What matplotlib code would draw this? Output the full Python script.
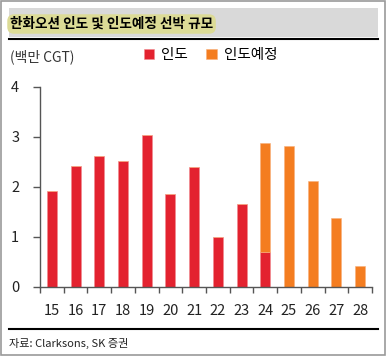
import numpy as np
import matplotlib.pyplot as plt
from matplotlib.patches import Rectangle
from matplotlib.ticker import FixedLocator

plt.rcParams['font.family'] = ['Noto Sans CJK KR', 'DejaVu Sans']

# data (million CGT)
years = ['15', '16', '17', '18', '19', '20', '21', '22', '23', '24', '25', '26', '27', '28']
delivered = [1.93, 2.43, 2.63, 2.52, 3.05, 1.87, 2.41, 1.01, 1.66, 0.71, 0, 0, 0, 0]
planned = [0, 0, 0, 0, 0, 0, 0, 0, 0, 2.17, 2.81, 2.13, 1.38, 0.43]

red = '#E3222F'
orange = '#F47D20'

W, H = 386, 356
fig = plt.figure(figsize=(W / 100, H / 100), dpi=100)

# figure border
fig.patches.append(Rectangle((0.003, 0.003), 0.994, 0.994, transform=fig.transFigure,
                             fill=False, edgecolor='#9A9A9A', linewidth=1.2))
# title band
fig.patches.append(Rectangle((9 / W, 1 - 37 / H), 369 / W, 29 / H, transform=fig.transFigure,
                             facecolor='#D9D9D9', edgecolor='none'))
fig.add_artist(plt.Line2D([9 / W, 378 / W], [1 - 38.5 / H, 1 - 38.5 / H],
                          transform=fig.transFigure, color='black', linewidth=1.5))
fig.text(10 / W, 1 - 24 / H, '한화오션 인도 및 인도예정 선박 규모', fontsize=9.8,
         fontweight='bold', va='center', ha='left',
         bbox=dict(boxstyle='round,pad=0.2,rounding_size=0.5', facecolor='#DCDB96',
                   edgecolor='none'))

# bottom line and source
fig.add_artist(plt.Line2D([9 / W, 378 / W], [1 - 329 / H, 1 - 329 / H],
                          transform=fig.transFigure, color='black', linewidth=1.5))
fig.text(9 / W, 1 - 343 / H, '자료: Clarksons, SK 증권', fontsize=8, va='center', ha='left',
         color='#222222')

# unit and legend
fig.text(10 / W, 1 - 57 / H, '(백만 CGT)', fontsize=10, va='center', ha='left', color='#333333')

ax = fig.add_axes([40 / W, 1 - 287 / H, 332 / W, 200 / H])
x = np.arange(len(years))
ax.bar(x, delivered, width=0.42, color=red, edgecolor='#F08A90', linewidth=0.4, label='인도')
ax.bar(x, planned, width=0.42, bottom=delivered, color=orange, edgecolor='#F8B07A',
       linewidth=0.4, label='인도예정')

ax.set_xlim(-0.5, len(years) - 0.5)
ax.set_ylim(0, 4)
ax.set_yticks([0, 1, 2, 3, 4])
ax.set_xticks(x)
ax.set_xticklabels(years)
ax.xaxis.set_minor_locator(FixedLocator(np.arange(-0.5, len(years), 1)))
ax.tick_params(axis='x', which='major', length=0, pad=12, labelsize=10.5, colors='#222222')
ax.tick_params(axis='x', which='minor', length=4, width=1, color='#555555', direction='out')
ax.tick_params(axis='y', length=5, width=1, color='#555555', pad=10, labelsize=10.5,
               labelcolor='#222222')
for s in ['top', 'right']:
    ax.spines[s].set_visible(False)
for s in ['left', 'bottom']:
    ax.spines[s].set_color('#555555')
    ax.spines[s].set_linewidth(1)

ax.legend(loc='upper left', bbox_to_anchor=(98 / 332, 1 + 45 / 200), ncol=2, frameon=False,
          fontsize=10.5, handlelength=0.7, handleheight=0.7, columnspacing=1.25,
          handletextpad=0.5, borderaxespad=0)

fig.savefig('out.png', dpi=100)
